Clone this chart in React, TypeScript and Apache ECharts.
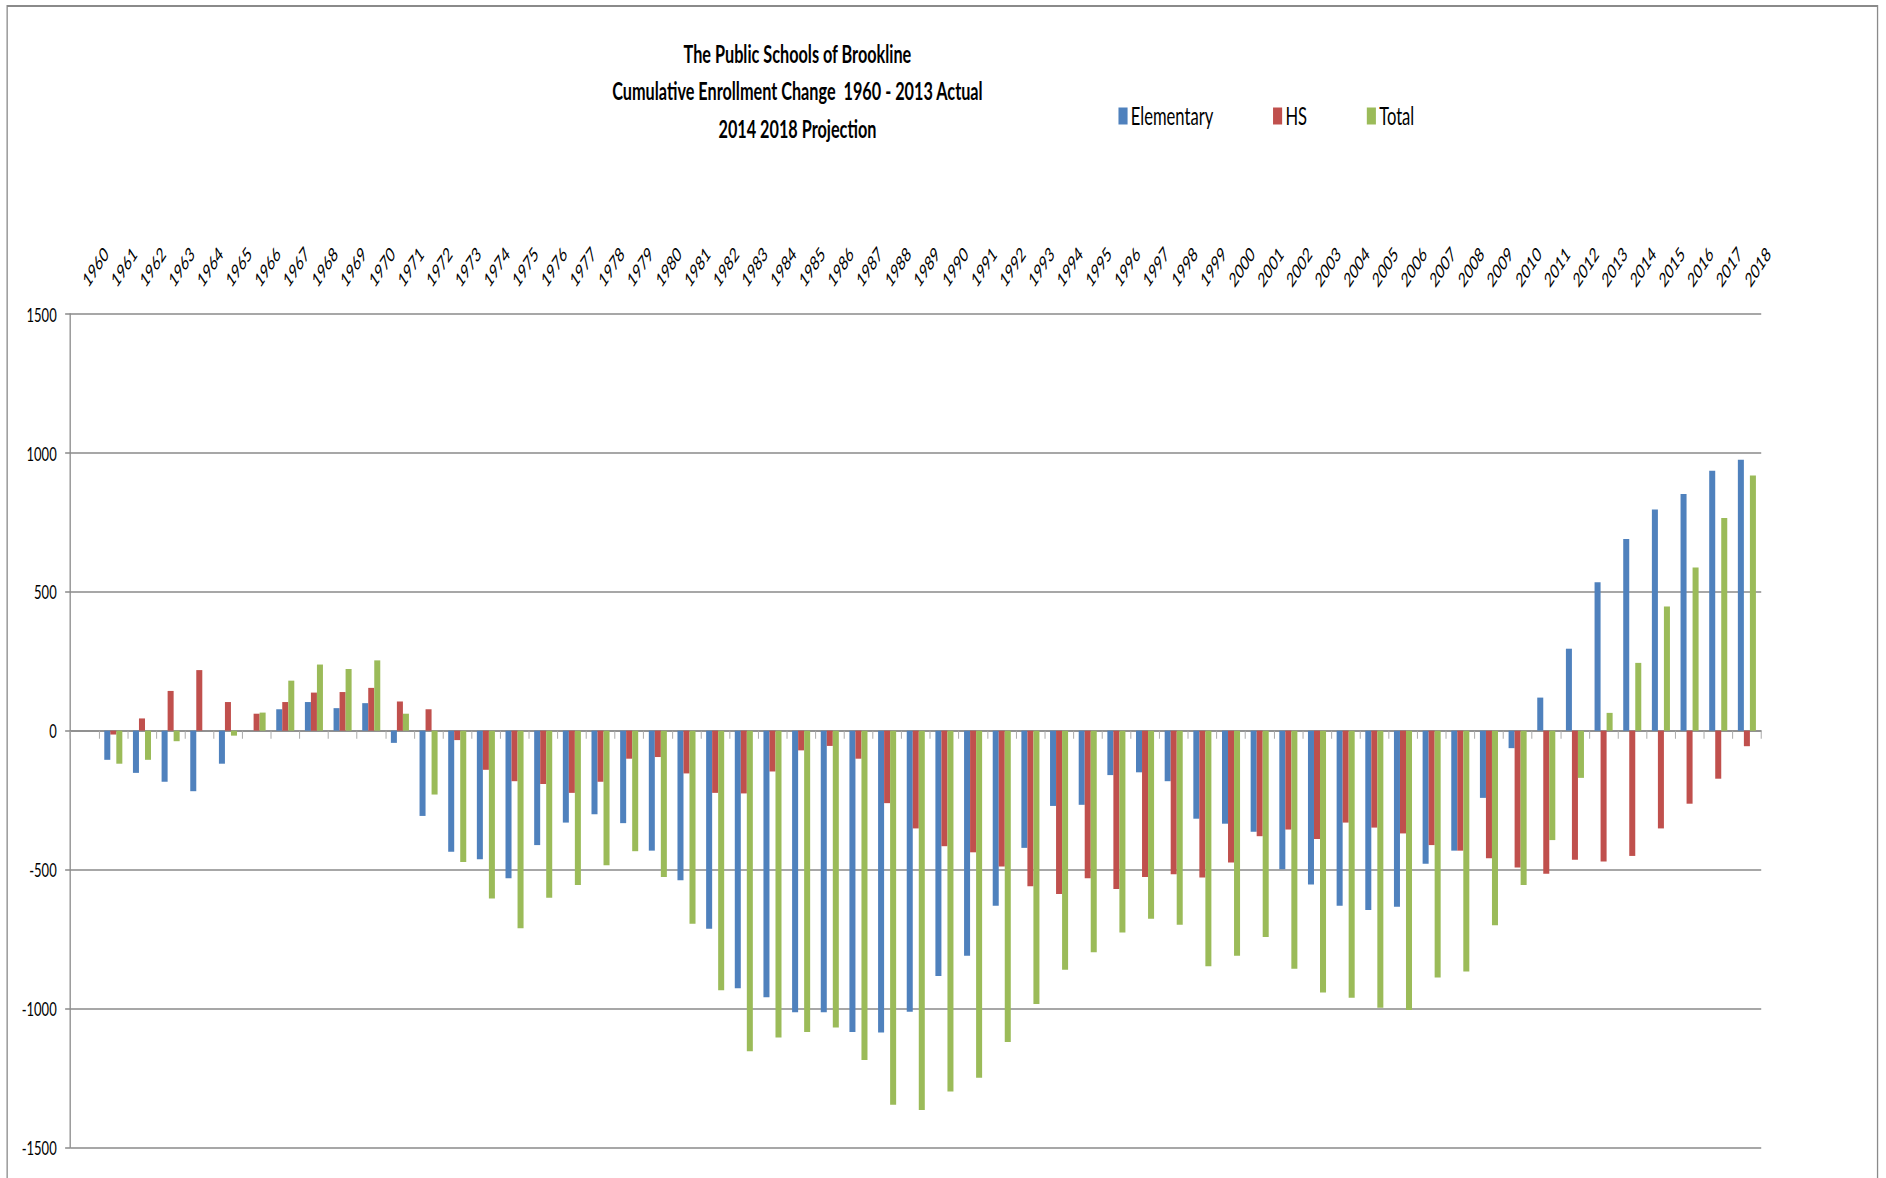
import { useEffect, useRef } from 'react';
import * as echarts from 'echarts';

const years = [
  '1960','1961','1962','1963','1964','1965','1966','1967','1968','1969',
  '1970','1971','1972','1973','1974','1975','1976','1977','1978','1979',
  '1980','1981','1982','1983','1984','1985','1986','1987','1988','1989',
  '1990','1991','1992','1993','1994','1995','1996','1997','1998','1999',
  '2000','2001','2002','2003','2004','2005','2006','2007','2008','2009',
  '2010','2011','2012','2013','2014','2015','2016','2017','2018'
];

const elementary = [
  0, -105, -152, -184, -218, -119, 0, 77, 103, 81,
  99, -44, -307, -436, -463, -531, -412, -331, -301, -333,
  -432, -539, -713, -927, -960, -1014, -1014, -1085, -1087, -1012,
  -883, -810, -630, -422, -271, -267, -160, -150, -182, -317,
  -335, -364, -499, -554, -630, -646, -634, -479, -432, -242,
  -63, 119, 295, 534, 690, 796, 852, 936, 975
];

const hs = [
  0, -14, 44, 143, 218, 103, 61, 103, 137, 139,
  154, 105, 77, -34, -141, -182, -192, -224, -184, -101,
  -95, -154, -224, -226, -147, -71, -55, -101, -261, -352,
  -416, -438, -489, -560, -588, -531, -570, -527, -517, -529,
  -475, -380, -356, -390, -331, -349, -370, -412, -432, -459,
  -493, -515, -465, -471, -451, -352, -263, -173, -56
];

const total = [
  0, -119, -105, -38, 0, -18, 65, 180, 238, 222,
  253, 61, -230, -473, -604, -711, -602, -556, -485, -434,
  -527, -695, -935, -1154, -1105, -1085, -1069, -1186, -1347, -1366,
  -1299, -1250, -1121, -984, -861, -798, -727, -677, -699, -848,
  -810, -743, -857, -943, -962, -998, -1006, -889, -867, -701,
  -556, -394, -170, 64, 244, 447, 587, 766, 919
];

const titleLines = [
  'The Public Schools of Brookline',
  'Cumulative Enrollment Change  1960 - 2013 Actual',
  '2014 2018 Projection'
];

const seriesNames = ['Elementary', 'HS', 'Total'];
const seriesColors = ['#4F81BD', '#C0504D', '#9BBB59'];

const W = 1886;
const H = 1178;
const INNER_W = 2902;
const SX = W / INNER_W;
const FONT = 'Lato, "Liberation Sans", sans-serif';

export default function App() {
  const ref = useRef<HTMLDivElement>(null);

  useEffect(() => {
    const chart = echarts.init(ref.current as HTMLDivElement, null, { renderer: 'svg' });
    const seriesData = [elementary, hs, total];
    chart.setOption({
      animation: false,
      backgroundColor: '#ffffff',
      textStyle: { fontFamily: FONT },
      graphic: [
        {
          type: 'rect',
          silent: true,
          z: -10,
          shape: { x: 11, y: 6, width: 2889 - 11, height: 1200 },
          style: { fill: 'none', stroke: '#8a8a8a', lineWidth: 2 }
        },
        ...titleLines.map((t, i) => ({
          type: 'text',
          x: 1227,
          y: 53 + i * 37.3,
          style: {
            text: t,
            fontFamily: FONT,
            fontSize: 25,
            fontWeight: 'bold',
            fill: '#000',
            align: 'center',
            verticalAlign: 'middle'
          }
        }))
      ],
      legend: {
        data: seriesNames,
        left: 1721,
        top: 103,
        padding: 0,
        itemWidth: 14,
        itemHeight: 17,
        itemGap: 92,
        icon: 'rect',
        textStyle: { fontSize: 25.5, fontFamily: FONT, color: '#000' }
      },
      grid: {
        left: 108.2,
        right: 192,
        top: 314,
        bottom: 30.7,
        containLabel: false,
        outerBoundsMode: 'none'
      },
      xAxis: [
        {
          type: 'category',
          data: years,
          position: 'top',
          axisLine: { show: false, onZero: false },
          axisTick: { show: false },
          splitLine: { show: false },
          axisLabel: {
            interval: 0,
            rotate: -45,
            margin: 31,
            fontSize: 20,
            fontFamily: FONT,
            color: '#000'
          }
        },
        {
          type: 'category',
          data: years,
          position: 'bottom',
          axisLine: { show: true, onZero: true, lineStyle: { color: '#8a8a8a', width: 1.5 } },
          axisTick: { show: true, length: 8, lineStyle: { color: '#a8a8a8', width: 1.5 } },
          axisLabel: { show: false },
          splitLine: { show: false }
        }
      ],
      yAxis: {
        type: 'value',
        min: -1500,
        max: 1500,
        interval: 500,
        axisLine: { show: true, lineStyle: { color: '#8a8a8a', width: 2 } },
        axisTick: { show: true, length: 8, lineStyle: { color: '#8a8a8a', width: 1.5 } },
        splitLine: { show: true, lineStyle: { color: '#8a8a8a', width: 1.5 } },
        axisLabel: {
          margin: 21,
          fontSize: 20,
          fontFamily: FONT,
          color: '#000',
          formatter: (v: number) => String(v)
        }
      },
      series: seriesNames.map((name, i) => ({
        name,
        type: 'bar',
        xAxisIndex: 0,
        yAxisIndex: 0,
        data: seriesData[i],
        barWidth: '21%',
        barGap: '0%',
        itemStyle: { color: seriesColors[i] }
      }))
    });
    return () => chart.dispose();
  }, []);

  return (
    <div
      style={{
        position: 'fixed',
        left: 0,
        top: 0,
        width: W,
        height: H,
        overflow: 'hidden',
        background: '#fff'
      }}
    >
      <div
        ref={ref}
        style={{
          width: INNER_W,
          height: H,
          transform: `scaleX(${SX})`,
          transformOrigin: '0 0'
        }}
      />
    </div>
  );
}
